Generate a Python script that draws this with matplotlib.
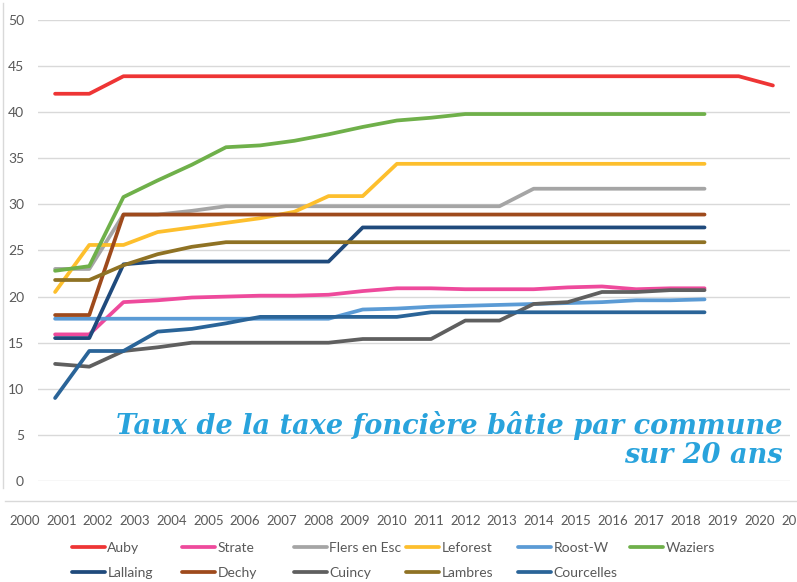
import matplotlib
matplotlib.use('Agg')
import matplotlib.pyplot as plt
from matplotlib.lines import Line2D

# Données (taux en %)
annees = list(range(2001, 2023))
auby = [42.0, 42.0] + [43.9] * 19 + [42.9]
strate = [15.9, 15.9, 19.4, 19.6, 19.9, 20.0, 20.1, 20.1, 20.2, 20.6,
          20.9, 20.9, 20.8, 20.8, 20.8, 21.0, 21.1, 20.8, 20.9, 20.9]
flers = [23.0, 23.0, 28.9, 28.9, 29.3, 29.8, 29.8, 29.8, 29.8, 29.8,
         29.8, 29.8, 29.8, 29.8, 31.7, 31.7, 31.7, 31.7, 31.7, 31.7]
leforest = [20.5, 25.6, 25.6, 27.0, 27.5, 28.0, 28.5, 29.2, 30.9, 30.9,
            34.4, 34.4, 34.4, 34.4, 34.4, 34.4, 34.4, 34.4, 34.4, 34.4]
roost = [17.6, 17.6, 17.6, 17.6, 17.6, 17.6, 17.6, 17.6, 17.6, 18.6,
         18.7, 18.9, 19.0, 19.1, 19.2, 19.3, 19.4, 19.6, 19.6, 19.7]
waziers = [22.8, 23.3, 30.8, 32.6, 34.3, 36.2, 36.4, 36.9, 37.6, 38.4,
           39.1, 39.4, 39.8, 39.8, 39.8, 39.8, 39.8, 39.8, 39.8, 39.8]
lallaing = [15.5, 15.5, 23.5, 23.8, 23.8, 23.8, 23.8, 23.8, 23.8, 27.5,
            27.5, 27.5, 27.5, 27.5, 27.5, 27.5, 27.5, 27.5, 27.5, 27.5]
dechy = [18.0, 18.0] + [28.9] * 18
cuincy = [12.7, 12.4, 14.1, 14.5, 15.0, 15.0, 15.0, 15.0, 15.0, 15.4,
          15.4, 15.4, 17.4, 17.4, 19.2, 19.4, 20.5, 20.5, 20.7, 20.7]
lambres = [21.8, 21.8, 23.4, 24.6, 25.4] + [25.9] * 15
courcelles = [9.0, 14.1, 14.1, 16.2, 16.5, 17.1, 17.8, 17.8, 17.8, 17.8,
              17.8, 18.3, 18.3, 18.3, 18.3, 18.3, 18.3, 18.3, 18.3, 18.3]

communes = ['Auby', 'Strate', 'Flers en Esc', 'Leforest', 'Roost-W', 'Waziers',
            'Lallaing', 'Dechy', 'Cuincy', 'Lambres', 'Courcelles']
series = [auby, strate, flers, leforest, roost, waziers,
          lallaing, dechy, cuincy, lambres, courcelles]
couleurs = ['#ee3535', '#ee4a9c', '#a5a5a5', '#fdbf2d', '#5b9bd5', '#6fb04a',
            '#1f4a7c', '#9e4a1c', '#5f5f5f', '#8f7224', '#2a6498']

# la dernière étiquette est tronquée au bord dans l'original
etiquettes_annees = [str(a) for a in range(2000, 2021)] + ['20']

W, H = 797, 582
fig = plt.figure(figsize=(W / 100, H / 100), dpi=100)


def fx(px):
    return px / W


def fy(py):
    return 1 - py / H


# graphique principal
ax = fig.add_axes([fx(38), fy(481), fx(790) - fx(38), fy(20) - fy(481)])
for nom, vals, c in zip(communes, series, couleurs):
    ax.plot(annees[:len(vals)], vals, color=c, lw=2.7, label=nom,
            solid_capstyle='round', solid_joinstyle='round')

ax.set_xlim(annees[0] - 0.5, annees[-1] + 0.5)
ax.set_ylim(0, 50)
ax.set_yticks(range(0, 51, 5))
ax.grid(axis='y', color='#d9d9d9', lw=1)
ax.set_axisbelow(True)
ax.set_xticks([])
ax.tick_params(axis='y', length=0, pad=10, labelsize=10, labelcolor='#595959')
for lab in ax.get_yticklabels():
    lab.set_family(['Lato', 'DejaVu Sans'])
for s in ax.spines.values():
    s.set_visible(False)

# cadre gris
fig.add_artist(Line2D([fx(3), fx(3)], [fy(3), fy(488)], transform=fig.transFigure,
                      color='#d9d9d9', lw=1))
fig.add_artist(Line2D([fx(5), fx(797)], [fy(501), fy(501)], transform=fig.transFigure,
                      color='#d9d9d9', lw=1))

# rangée d'années sous le graphique
x0, pas = 24.5, 36.75
ax2 = fig.add_axes([0, fy(512), 830 / W, 0.001])
ax2.set_xlim(2000 - x0 / pas, 2000 + (830 - x0) / pas)
ax2.set_ylim(0, 1)
ax2.set_xticks(range(2000, 2022))
ax2.set_xticklabels(etiquettes_annees, family=['Lato', 'DejaVu Sans'],
                    fontsize=9.5, color='#595959')
ax2.get_xticklabels()[-1].set_horizontalalignment('right')
ax2.tick_params(axis='x', length=0, pad=2)
ax2.set_yticks([])
for s in ax2.spines.values():
    s.set_visible(False)
ax2.patch.set_visible(False)

# titre
fig.text(fx(783), fy(463), 'Taux de la taxe foncière bâtie par commune\nsur 20 ans',
         ha='right', va='baseline', multialignment='right', linespacing=1.1,
         fontsize=19.5, style='italic', weight='bold', family='DejaVu Serif',
         color='#29a3dc')

# légende : 6 colonnes de largeur fixe
cols_x = [72, 182, 294, 406, 518, 630]
rows_y = [548, 573]
handles, labels = ax.get_legend_handles_labels()
for i, (h, l) in enumerate(zip(handles, labels)):
    r, c = divmod(i, 6)
    fig.legend([h], [l], loc='center left',
               bbox_to_anchor=(fx(cols_x[c]), fy(rows_y[r])),
               frameon=False, borderpad=0, borderaxespad=0,
               handlelength=2.4, handletextpad=0.15,
               prop={'family': ['Lato', 'DejaVu Sans'], 'size': 10},
               labelcolor='#595959')

fig.savefig('out.png', dpi=100)
